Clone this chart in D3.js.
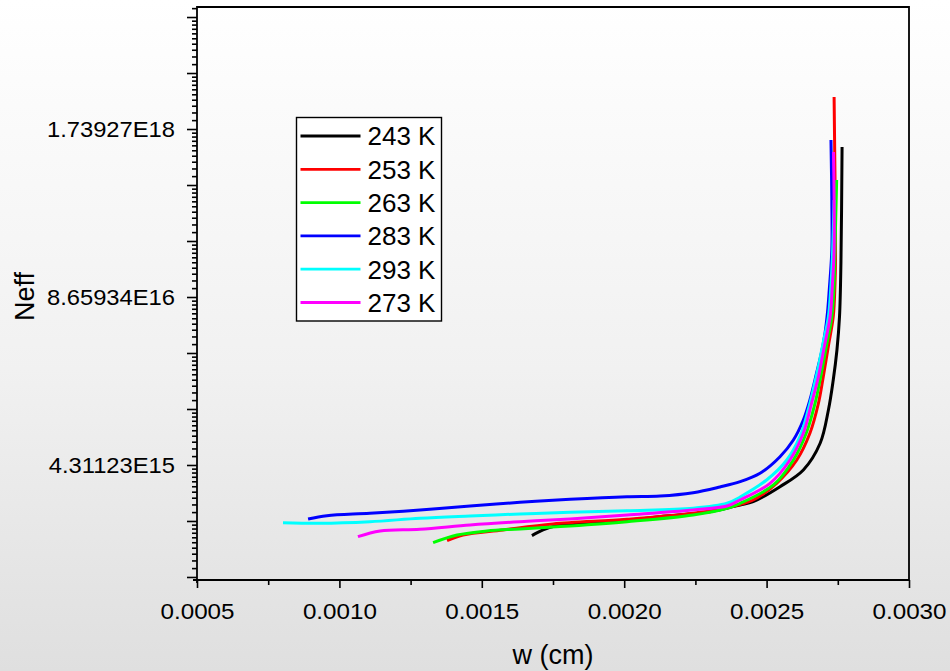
<!DOCTYPE html>
<html>
<head>
<meta charset="utf-8">
<script src="https://cdn.jsdelivr.net/npm/d3@7"></script>
<style>
  html, body { margin: 0; padding: 0; }
  svg { display: block; }
  text { font-family: "Liberation Sans", Arial, sans-serif; fill: #000; }
</style>
</head>
<body>
<svg id="chart" width="950" height="671"></svg>
<script>
// Series: depletion width w (cm) versus effective doping Neff, one curve per temperature
const seriesNames  = ["243 K", "253 K", "263 K", "283 K", "293 K", "273 K"];
const seriesColors = ["#000000", "#ff0000", "#00ff00", "#0000ff", "#00ffff", "#ff00ff"];

const w243 = [0.001676, 0.001715, 0.001757, 0.001810, 0.002010, 0.002126, 0.002301, 0.002407, 0.002453, 0.002547, 0.002629, 0.002688, 0.002717, 0.002734, 0.002747, 0.002756, 0.002761, 0.002765];
const n243 = [1.220e15, 1.351e15, 1.451e15, 1.503e15, 1.615e15, 1.713e15, 1.872e15, 2.110e15, 2.239e15, 2.926e15, 3.943e15, 6.352e15, 1.151e16, 1.967e16, 3.361e16, 6.091e16, 1.589e17, 1.261e18];

const w253 = [0.001378, 0.001434, 0.001574, 0.001750, 0.002010, 0.002242, 0.002361, 0.002453, 0.002535, 0.002606, 0.002652, 0.002682, 0.002699, 0.002717, 0.002734, 0.002740, 0.002742, 0.002737];
const n253 = [1.116e15, 1.235e15, 1.351e15, 1.503e15, 1.635e15, 1.820e15, 2.011e15, 2.308e15, 3.109e15, 4.714e15, 7.594e15, 1.298e16, 2.087e16, 3.610e16, 6.091e16, 1.073e17, 1.677e17, 3.080e18];

const w263 = [0.001329, 0.001413, 0.001518, 0.001634, 0.001810, 0.002010, 0.002242, 0.002361, 0.002407, 0.002524, 0.002594, 0.002641, 0.002670, 0.002690, 0.002710, 0.002729, 0.002737, 0.002740, 0.002746];
const n263 = [1.077e15, 1.235e15, 1.327e15, 1.375e15, 1.451e15, 1.566e15, 1.765e15, 1.990e15, 2.175e15, 3.017e15, 4.714e15, 7.813e15, 1.298e16, 2.087e16, 3.610e16, 6.091e16, 1.073e17, 2.004e17, 6.997e17];

const w283 = [0.000890, 0.000956, 0.001107, 0.001283, 0.001459, 0.001634, 0.001810, 0.002010, 0.002126, 0.002242, 0.002336, 0.002407, 0.002477, 0.002547, 0.002594, 0.002629, 0.002652, 0.002676, 0.002693, 0.002705, 0.002714, 0.002720, 0.002729, 0.002729, 0.002726];
const n283 = [1.644e15, 1.744e15, 1.820e15, 1.930e15, 2.073e15, 2.215e15, 2.337e15, 2.448e15, 2.479e15, 2.629e15, 2.911e15, 3.199e15, 3.718e15, 5.000e15, 6.737e15, 9.629e15, 1.376e16, 2.251e16, 3.243e16, 4.529e16, 6.625e16, 9.812e16, 2.004e17, 4.894e17, 1.430e18];

const w293 = [0.000802, 0.000932, 0.001107, 0.001283, 0.001459, 0.001634, 0.001810, 0.002010, 0.002242, 0.002361, 0.002407, 0.002500, 0.002571, 0.002617, 0.002646, 0.002666, 0.002683, 0.002697, 0.002717, 0.002726, 0.002732, 0.002737];
const n293 = [1.539e15, 1.522e15, 1.566e15, 1.665e15, 1.734e15, 1.797e15, 1.852e15, 1.906e15, 1.990e15, 2.175e15, 2.434e15, 3.298e15, 4.714e15, 7.146e15, 1.151e16, 1.745e16, 2.571e16, 3.675e16, 6.091e16, 1.073e17, 2.004e17, 4.894e17];

const w273 = [0.001065, 0.001143, 0.001283, 0.001459, 0.001634, 0.001810, 0.002010, 0.002242, 0.002361, 0.002407, 0.002512, 0.002582, 0.002629, 0.002658, 0.002682, 0.002703, 0.002723, 0.002731, 0.002737, 0.002735];
const n273 = [1.198e15, 1.327e15, 1.368e15, 1.477e15, 1.566e15, 1.644e15, 1.765e15, 1.930e15, 2.073e15, 2.308e15, 3.109e15, 4.714e15, 7.594e15, 1.298e16, 2.087e16, 3.610e16, 6.091e16, 1.073e17, 2.004e17, 1.154e18];

const seriesW = [w243, w253, w263, w283, w293, w273];
const seriesN = [n243, n253, n263, n283, n293, n273];

// Axes: linear x, natural-log y (major tick every e^1, labels on e^36, e^39, e^42)
const xDomain = [0.0005, 0.0030];
const xTickValues = [0.0005, 0.0010, 0.0015, 0.0020, 0.0025, 0.0030];
const xTickLabels = ["0.0005", "0.0010", "0.0015", "0.0020", "0.0025", "0.0030"];
const yDomainLn = [33.946, 44.179];
const yTickValues = [4.31123e15, 8.65934e16, 1.73927e18];
const yTickLabels = ["4.31123E15", "8.65934E16", "1.73927E18"];
const xTitle = "w (cm)";
const yTitle = "Neff";

// ---- layout ----
const W = 950, H = 671;
const plot = { left: 197, right: 909, top: 7, bottom: 580 };

const svg = d3.select("#chart");

// background wash
const defs = svg.append("defs");
const grad = defs.append("linearGradient").attr("id", "bg").attr("x1", 0).attr("y1", 0).attr("x2", 0).attr("y2", 1);
grad.append("stop").attr("offset", "0%").attr("stop-color", "#ffffff");
grad.append("stop").attr("offset", "55%").attr("stop-color", "#f1f1f1");
grad.append("stop").attr("offset", "100%").attr("stop-color", "#dfdfdf");
svg.append("rect").attr("width", W).attr("height", H).attr("fill", "url(#bg)");

defs.append("clipPath").attr("id", "plotClip")
  .append("rect")
  .attr("x", plot.left).attr("y", plot.top)
  .attr("width", plot.right - plot.left).attr("height", plot.bottom - plot.top);

const x = d3.scaleLinear().domain(xDomain).range([plot.left, plot.right]);
const y = d3.scaleLog().base(Math.E)
  .domain(yDomainLn.map(Math.exp))
  .range([plot.bottom, plot.top]);

// ---- y axis ----
const lnLo = yDomainLn[0], lnHi = yDomainLn[1];
const yMajor = d3.range(Math.ceil(lnLo), Math.floor(lnHi) + 1).map(Math.exp);
const yMinor = [];
for (let n = Math.floor(lnLo); n <= Math.floor(lnHi); n++) {
  const a = Math.exp(n), b = Math.exp(n + 1);
  for (let k = 1; k <= 9; k++) {
    const v = a + k * (b - a) / 10;
    const lv = Math.log(v);
    if (lv >= lnLo && lv <= lnHi) yMinor.push(v);
  }
}
const yLabelFor = v => {
  const i = yTickValues.findIndex(t => Math.abs(Math.log(t) - Math.log(v)) < 0.01);
  return i >= 0 ? yTickLabels[i] : "";
};

const yAxisMinor = svg.append("g")
  .attr("transform", `translate(${plot.left},0)`)
  .call(d3.axisLeft(y).tickValues(yMinor).tickSize(5).tickFormat(""));
const yAxisMajor = svg.append("g")
  .attr("transform", `translate(${plot.left},0)`)
  .call(d3.axisLeft(y).tickValues(yMajor).tickSize(10).tickFormat(yLabelFor));
[yAxisMinor, yAxisMajor].forEach(g => {
  g.select(".domain").remove();
  g.selectAll(".tick line").attr("stroke", "#000").attr("stroke-width", 1.6);
});
const yStretch = 1.08;
yAxisMajor.selectAll(".tick text")
  .attr("font-size", 22)
  .attr("font-family", "Liberation Sans, Arial, sans-serif")
  .attr("text-anchor", "end")
  .attr("x", -22 / yStretch)
  .attr("dy", "0.36em")
  .attr("transform", `scale(${yStretch},1)`);

// ---- x axis ----
const xMinor = d3.pairs(xTickValues).map(([a, b]) => (a + b) / 2);
const xAxisMinor = svg.append("g")
  .attr("transform", `translate(0,${plot.bottom})`)
  .call(d3.axisBottom(x).tickValues(xMinor).tickSize(5).tickFormat(""));
const xAxisMajor = svg.append("g")
  .attr("transform", `translate(0,${plot.bottom})`)
  .call(d3.axisBottom(x).tickValues(xTickValues).tickSize(8).tickFormat((d, i) => xTickLabels[i]));
[xAxisMinor, xAxisMajor].forEach(g => {
  g.select(".domain").remove();
  g.selectAll(".tick line").attr("stroke", "#000").attr("stroke-width", 1.6);
});
xAxisMajor.selectAll(".tick text")
  .attr("font-size", 22)
  .attr("font-family", "Liberation Sans, Arial, sans-serif")
  .attr("y", 39)
  .attr("dy", 0)
  .attr("transform", "scale(1.1,1)");

// ---- curves ----
const line = d3.line()
  .x(d => x(d[0]))
  .y(d => y(d[1]))
  .curve(d3.curveCatmullRom.alpha(0.5));

const curves = svg.append("g").attr("clip-path", "url(#plotClip)");
seriesNames.forEach((name, i) => {
  const pts = seriesW[i].map((w, j) => [w, seriesN[i][j]]);
  curves.append("path")
    .datum(pts)
    .attr("d", line)
    .attr("fill", "none")
    .attr("stroke", seriesColors[i])
    .attr("stroke-width", 3)
    .attr("stroke-linejoin", "round")
    .attr("stroke-linecap", "butt");
});

// ---- frame ----
svg.append("path")
  .attr("d", `M${plot.left},${plot.bottom + 3}V${plot.top}H${plot.right}V${plot.bottom}H${plot.left - 4}`)
  .attr("fill", "none")
  .attr("stroke", "#000")
  .attr("stroke-width", 1.8);

// ---- axis titles ----
svg.append("text")
  .attr("x", (plot.left + plot.right) / 2)
  .attr("y", 664)
  .attr("text-anchor", "middle")
  .attr("font-size", 27)
  .text(xTitle);

svg.append("text")
  .attr("transform", `translate(34,${(plot.top + plot.bottom) / 2 + 3}) rotate(-90)`)
  .attr("text-anchor", "middle")
  .attr("font-size", 27)
  .text(yTitle);

// ---- legend ----
const legend = svg.append("g").attr("transform", "translate(296.5,117.5)");
legend.append("rect")
  .attr("width", 145).attr("height", 203.5)
  .attr("fill", "#ffffff").attr("stroke", "#000").attr("stroke-width", 1.4);
seriesNames.forEach((name, i) => {
  const ly = 18.5 + i * 33.3;
  legend.append("line")
    .attr("x1", 4).attr("x2", 64)
    .attr("y1", ly).attr("y2", ly)
    .attr("stroke", seriesColors[i]).attr("stroke-width", 2.8);
  legend.append("text")
    .attr("x", 71).attr("y", ly + 9.3)
    .attr("font-size", 26)
    .text(name);
});
</script>
</body>
</html>
